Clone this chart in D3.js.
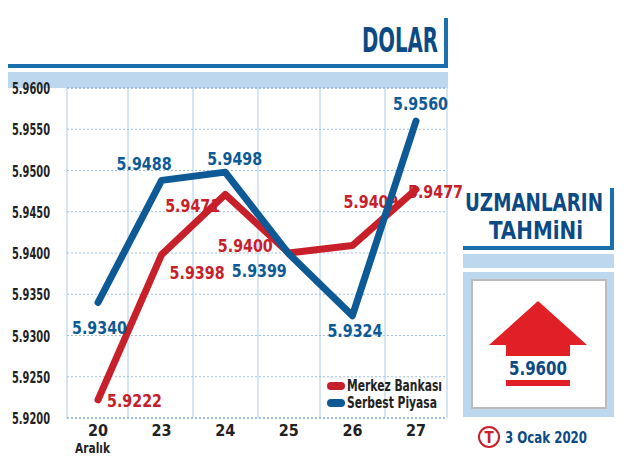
<!DOCTYPE html>
<html><head><meta charset="utf-8">
<script src="https://d3js.org/d3.v7.min.js"></script>
<style>body{margin:0;background:#fff}text{font-family:"DejaVu Sans","Liberation Sans",sans-serif;font-stretch:condensed;font-weight:bold}</style>
</head><body><svg id="c" width="629" height="471"></svg>
<script>
const categories=["20","23","24","25","26","27"];
const merkez=[5.9222,5.9398,5.9471,5.9400,5.9409,5.9477];
const serbest=[5.9340,5.9488,5.9498,5.9399,5.9324,5.9560];
const yTicks=[5.92,5.925,5.93,5.935,5.94,5.945,5.95,5.955,5.96];
const merkezLabelOff=[[9,7],[8,24],[-60,18],[-71,-1],[-9,-38],[-8,9]];
const serbestLabelOff=[[-26,31],[-45,-10],[-18,-7],[-57,23],[-25,21],[-23,-11]];
const RED="#c8202a",BLUE="#0e5a96",DARK="#0b4a84",LB="#bcd7ee";
const svg=d3.select("#c");
const x=d3.scalePoint().domain(categories).range([98,416]);
const y=d3.scaleLinear().domain([5.92,5.96]).range([418,88]);
function fit(sel,w){sel.attr("textLength",w).attr("lengthAdjust","spacingAndGlyphs");return sel;}
svg.append("rect").attr("x",8).attr("y",64).attr("width",440).attr("height",4).attr("fill","#1a6fae");
svg.append("rect").attr("x",444).attr("y",18).attr("width",4).attr("height",50).attr("fill","#1a6fae");
svg.append("rect").attr("x",8).attr("y",72).attr("width",440).attr("height",16).attr("fill",LB);
fit(svg.append("text").attr("x",362).attr("y",52).attr("font-size",34).attr("fill",DARK).text("DOLAR"),76);
const vx=[67,128,193,258,320,385,447];
svg.selectAll(".vg").data(vx).join("line").attr("x1",d=>d).attr("x2",d=>d).attr("y1",88).attr("y2",418).attr("stroke","#c9dcef").attr("stroke-width",1.5);
svg.selectAll(".hg").data(yTicks).join("line").attr("x1",67).attr("x2",447).attr("y1",d=>y(d)).attr("y2",d=>y(d)).attr("stroke","#9fc0e0").attr("stroke-dasharray","2,2").attr("stroke-width",(d,i)=>i==0||i==8?2:1);
fit(svg.append("g").selectAll("text").data(yTicks).join("text").attr("x",12).attr("y",d=>y(d)+6).attr("font-size",15).attr("fill","#222").text(d=>d.toFixed(4)),38);
svg.append("g").selectAll("text").data(categories).join("text").attr("x",d=>x(d)).attr("y",436).attr("text-anchor","middle").attr("font-size",16).attr("fill","#222").text(d=>d);
fit(svg.append("text").attr("x",75).attr("y",453).attr("font-size",14).attr("fill","#222").text("Aralık"),35);
const line=d3.line().x((d,i)=>x(categories[i])).y(d=>y(d));
[[merkez,RED,merkezLabelOff],[serbest,BLUE,serbestLabelOff]].forEach(([data,col,off])=>{
  svg.append("path").datum(data).attr("d",line).attr("fill","none").attr("stroke",col).attr("stroke-width",7).attr("stroke-linecap","round").attr("stroke-linejoin","round");
  fit(svg.append("g").selectAll("text").data(data).join("text").attr("x",(d,i)=>x(categories[i])+off[i][0]).attr("y",(d,i)=>y(d)+off[i][1]).attr("font-size",18).attr("fill",col).text(d=>d.toFixed(4)),55);
});
[["Merkez Bankası",RED,95],["Serbest Piyasa",BLUE,90]].forEach(([t,c,w],i)=>{
  svg.append("rect").attr("x",327).attr("y",382+i*17).attr("width",18).attr("height",8).attr("rx",4).attr("fill",c);
  fit(svg.append("text").attr("x",347).attr("y",391+i*17).attr("font-size",15).attr("fill","#222").text(t),w);
});
fit(svg.append("text").attr("x",465).attr("y",211).attr("font-size",25).attr("fill",DARK).text("UZMANLARIN"),138);
fit(svg.append("text").attr("x",489).attr("y",239).attr("font-size",25).attr("fill",DARK).text("TAHMiNi"),94);
svg.append("rect").attr("x",463).attr("y",246).attr("width",151).attr("height",4).attr("fill","#1a6fae");
svg.append("rect").attr("x",610).attr("y",188).attr("width",4).attr("height",62).attr("fill","#1a6fae");
svg.append("rect").attr("x",463).attr("y",254).attr("width",151).attr("height",14).attr("fill",LB);
svg.append("rect").attr("x",463).attr("y",272).attr("width",151).attr("height",145).attr("fill",LB);
svg.append("rect").attr("x",472).attr("y",280).attr("width",134).attr("height",128).attr("fill","#fff").attr("stroke","#bbb").attr("stroke-width",2);
svg.append("path").attr("d","M538,301 L587,345 L570,345 L570,356 L506,356 L506,345 L489,345 Z").attr("fill","#e11f26");
fit(svg.append("text").attr("x",509).attr("y",375).attr("font-size",19).attr("fill",DARK).text("5.9600"),58);
svg.append("rect").attr("x",506).attr("y",380).attr("width",64).attr("height",6).attr("fill","#e11f26");
svg.append("circle").attr("cx",489).attr("cy",437).attr("r",10).attr("fill","none").attr("stroke",RED).attr("stroke-width",2);
svg.append("text").attr("x",489).attr("y",443).attr("text-anchor","middle").attr("font-size",15).attr("fill",RED).text("T");
fit(svg.append("text").attr("x",505).attr("y",443).attr("font-size",16).attr("fill",DARK).text("3 Ocak 2020"),82);
</script></body></html>
